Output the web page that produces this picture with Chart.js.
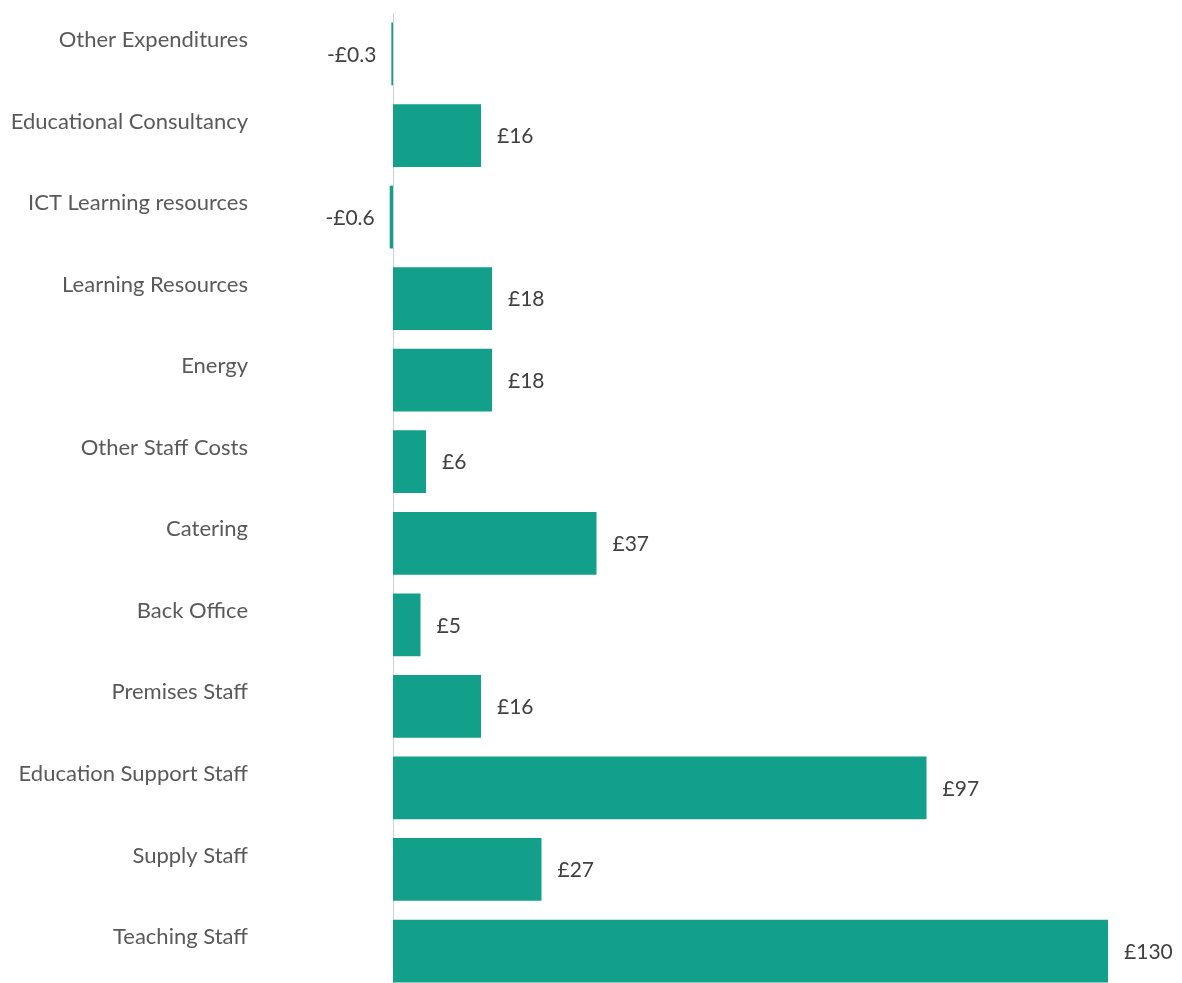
<!DOCTYPE html>
<html>
<head>
<meta charset="utf-8">
<script src="https://cdn.jsdelivr.net/npm/chart.js@4/dist/chart.umd.min.js"></script>
<style>
    html, body { margin: 0; padding: 0; background: #fff; overflow: hidden; }
    canvas { display: block; }
</style>
</head>
<body>
<canvas id="spend" width="1182" height="1005"></canvas>
<script>
var categories = ["Other Expenditures", "Educational Consultancy", "ICT Learning resources", "Learning Resources",
    "Energy", "Other Staff Costs", "Catering", "Back Office", "Premises Staff",
    "Education Support Staff", "Supply Staff", "Teaching Staff"];
var values = [-0.3, 16, -0.6, 18, 18, 6, 37, 5, 16, 97, 27, 130];
var valueLabels = ["-£0.3", "£16", "-£0.6", "£18", "£18", "£6", "£37", "£5", "£16", "£97", "£27", "£130"];

var fontFamily = "Lato, 'Open Sans', sans-serif";

// draws the value next to the end of each bar
var barValues = {
    id: 'barValues',
    afterDatasetsDraw: function (chart) {
        var ctx = chart.ctx;
        var meta = chart.getDatasetMeta(0);
        ctx.save();
        ctx.font = "21px " + fontFamily;
        ctx.fillStyle = "#404040";
        ctx.textBaseline = "middle";
        meta.data.forEach(function (bar, i) {
            if (values[i] < 0) {
                ctx.textAlign = "right";
                ctx.fillText(valueLabels[i], bar.x - 15, bar.y + 1);
            } else {
                ctx.textAlign = "left";
                ctx.fillText(valueLabels[i], bar.x + 16, bar.y + 1);
            }
        });
        ctx.restore();
    }
};

var ctx = document.getElementById("spend");
var spendChart = new Chart(ctx, {
    type: 'bar',
    data: {
        labels: categories,
        datasets: [{
            data: values,
            backgroundColor: "#12a08a",
            borderWidth: 0,
            categoryPercentage: 1,
            barPercentage: 0.77,
            clip: false
        }]
    },
    options: {
        indexAxis: 'y',
        responsive: false,
        devicePixelRatio: 1,
        animation: false,
        layout: { padding: { top: 5, right: 0, bottom: 0, left: 0 } },
        plugins: {
            legend: { display: false },
            tooltip: { enabled: false }
        },
        scales: {
            x: {
                display: false,
                min: 0,
                max: 143.45
            },
            y: {
                // tick marks are hidden, their length only pushes the labels left
                grid: { display: false, drawTicks: true, tickLength: 145 },
                border: { display: true, color: "#d0d0d0", width: 1 },
                ticks: {
                    padding: 0,
                    labelOffset: -14,
                    color: "#595959",
                    font: { family: fontFamily, size: 22 }
                },
                afterFit: function (scale) {
                    scale.width = 393;
                }
            }
        }
    },
    plugins: [barValues]
});
</script>
</body>
</html>
